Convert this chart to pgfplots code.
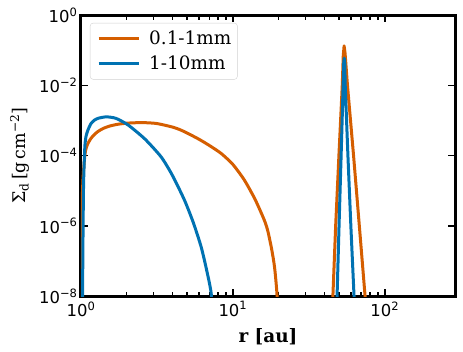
\documentclass[border=0pt]{standalone}
\usepackage{fontspec}
\setmainfont{DejaVu Serif}
\newfontfamily\dvsans{DejaVu Sans}
\usepackage{pgfplots}
\pgfplotsset{compat=1.18}
\definecolor{smallgr}{HTML}{D55E00}
\definecolor{biggr}{HTML}{0072B2}

\begin{document}
\begin{tikzpicture}
\begin{axis}[
    xmode=log, ymode=log, log basis x=10,
    scale only axis, width=374bp, height=281bp,
    xmin=1, xmax=290, ymin=1e-8, ymax=1,
    ytick={1e-8,1e-6,1e-4,1e-2,1},
    yticklabels={10\textsuperscript{−8},10\textsuperscript{−6},10\textsuperscript{−4},10\textsuperscript{−2},10\textsuperscript{0}},
    xticklabel={10\textsuperscript{\pgfmathparse{int(round(\tick))}\pgfmathresult}},
    yminorticks=false,
    tick align=inside, xtick pos=both, ytick pos=both,
    major tick length=7bp, minor tick length=4.5bp,
    every tick/.style={black, line width=1.5bp},
    axis line style={line width=3bp},
    tick label style={font=\dvsans\fontsize{16.5}{18}\selectfont},
    xticklabel style={yshift=-2bp},
    xlabel={\textbf{r [au]}},
    xlabel style={font=\fontsize{18.5}{20}\selectfont, yshift=-5bp},
    ylabel={Σ\textsubscript{d}\,[g\,cm\textsuperscript{−2}]},
    ylabel style={font=\fontsize{17.5}{20}\selectfont, yshift=3bp},
    legend style={at={(0.024,0.972)}, anchor=north west, draw=black!18,
        rounded corners=3bp, font=\fontsize{18.5}{20}\selectfont,
        inner xsep=4bp, inner ysep=6bp, row sep=6bp},
    legend cell align=left,
    legend image code/.code={\draw[#1, line width=3bp] (0bp,0bp) -- (40bp,0bp);
        \path (-3bp,0bp) (47bp,0bp);},
]
\addplot[smallgr, line width=3bp, smooth, tension=0.4] coordinates {
    (1.000,1e-9) (1.01,1e-6) (1.03,2.0e-5) (1.06,1.0e-4) (1.08,1.58e-4)
    (1.11,2.19e-4) (1.16,3.02e-4) (1.22,3.89e-4) (1.29,4.79e-4) (1.4,5.89e-4)
    (1.55,6.92e-4) (1.75,7.76e-4) (2.0,8.32e-4) (2.3,8.57e-4) (2.62,8.61e-4)
    (3.16,8.13e-4) (3.98,6.50e-4) (4.47,5.46e-4) (5.05,4.27e-4) (6.0,2.88e-4)
    (7.0,1.93e-4) (8.36,1.15e-4) (10,5.56e-5) (11.9,2.0e-5) (14,5.64e-6)
    (16.1,1.45e-6) (17,6.98e-7) (18,2.15e-7) (18.8,6.76e-8) (19.5,1.17e-8)
    (19.9,1e-9)
};
\addlegendentry{0.1-1mm}
\addplot[biggr, line width=3bp, smooth, tension=0.4] coordinates {
    (1.02,1e-9) (1.03,3.16e-7) (1.04,1.58e-5) (1.06,1.78e-4) (1.08,3.55e-4)
    (1.11,5.25e-4) (1.16,7.94e-4) (1.22,1.0e-3) (1.3,1.15e-3) (1.47,1.26e-3)
    (1.7,1.14e-3) (2.04,7.41e-4) (2.63,2.97e-4) (3.37,9.12e-5) (3.98,2.82e-5)
    (4.8,5.37e-6) (5.5,1.2e-6) (6.18,2.51e-7) (6.7,5.75e-8) (7.2,1.17e-8)
    (7.45,1e-9)
};
\addlegendentry{1-10mm}
\addplot[smallgr, line width=3bp, line join=round, forget plot] coordinates {
    (44.6,1e-9) (47.5,1e-6) (49.9,1e-4) (52.5,1e-2) (53.3,7e-2)
    (54,1.32e-1) (54.8,8e-2) (56.8,1e-2) (62.3,1e-4) (68,1e-6) (77.5,1e-9)
};
\addplot[biggr, line width=3bp, line join=round, forget plot] coordinates {
    (47.8,1e-9) (50.0,1e-6) (51.6,1e-4) (53.2,1e-2) (53.7,4.5e-2)
    (54.1,5.9e-2) (54.5,4.5e-2) (54.9,1e-2) (57.2,1e-4) (59.8,1e-6) (64.3,1e-9)
};
\end{axis}
\path (current axis.north east) ++(8bp,15bp);
\path (current axis.south west) ++(-81bp,-56bp);
\end{tikzpicture}
\end{document}
